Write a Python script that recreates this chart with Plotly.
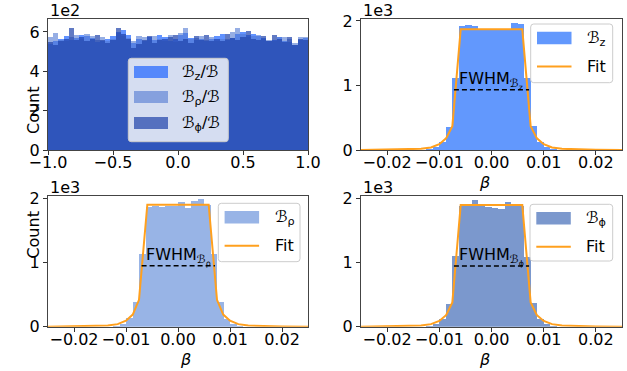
import plotly.graph_objects as go

W, H = 627, 371
FONT = "DejaVu Sans"
FS = 16

# ---- top-left: distribution of the component ratios, 50 bins on [-1, 1] ----
ratio_lo, ratio_hi, ratio_nbins = -1.0, 1.0, 50
ratio_bz = [540, 552, 565, 580, 558, 568, 585, 578, 570, 548, 552, 562, 582, 600, 608,
            584, 545, 562, 555, 572, 558, 586, 576, 552, 563, 584, 594, 570, 558, 565,
            552, 562, 578, 590, 558, 570, 592, 598, 584, 592, 580, 570, 552, 560, 575,
            555, 548, 532, 558, 568]
ratio_brho = [572, 594, 558, 552, 574, 584, 565, 590, 578, 558, 572, 552, 566, 596, 582,
              568, 555, 578, 572, 558, 580, 564, 552, 584, 548, 596, 622, 562, 568, 578,
              558, 572, 552, 562, 565, 600, 618, 590, 574, 580, 584, 565, 558, 552, 572,
              574, 562, 545, 574, 572]
ratio_bphi = [548, 532, 552, 566, 620, 558, 572, 552, 565, 585, 560, 545, 558, 618, 590,
              562, 520, 540, 558, 578, 545, 558, 562, 572, 585, 552, 565, 545, 578, 558,
              585, 552, 565, 552, 588, 570, 558, 574, 606, 566, 558, 580, 552, 585, 562,
              548, 574, 532, 565, 558]

# ---- beta histograms, 40 bins on [-0.025, 0.025] ----
beta_lo, beta_hi, beta_nbins = -0.025, 0.025, 40
beta_bz = [0] * 10 + [8, 45, 128, 360, 1120,
                      1925, 1930, 1922, 1862, 1860, 1856, 1858, 1870, 1975, 1950,
                      1110, 370, 130, 45, 8] + [0] * 10
beta_brho = [0] * 10 + [8, 45, 140, 390, 1140,
                        1885, 1890, 1885, 1890, 1895, 1958, 1855, 1975, 2000, 1905,
                        1150, 390, 130, 45, 8] + [0] * 10
beta_bphi = [0] * 10 + [8, 45, 130, 370, 1120,
                        1900, 1905, 1985, 1922, 1885, 1870, 1845, 1958, 1906, 1900,
                        1100, 380, 130, 45, 8] + [0] * 10

# fitted flat-top profiles
fit_beta = [-0.025, -0.02, -0.016, -0.0135, -0.0116, -0.0100, -0.0087, -0.0075, -0.0059,
            0.0059, 0.0075, 0.0087, 0.0100, 0.0116, 0.0135, 0.016, 0.02, 0.025]
fit_bz = [0, 3, 8, 18, 40, 90, 180, 370, 1870, 1870, 370, 180, 90, 40, 18, 8, 3, 0]
fit_brho = [0, 3, 8, 18, 40, 95, 190, 420, 1905, 1905, 420, 190, 95, 40, 18, 8, 3, 0]
fit_bphi = [0, 3, 8, 18, 40, 90, 180, 380, 1900, 1900, 380, 180, 90, 40, 18, 8, 3, 0]

# FWHM segments: left, right, level
fwhm_bz = [-0.0072, 0.0072, 935]
fwhm_brho = [-0.0070, 0.0071, 952]
fwhm_bphi = [-0.0072, 0.0072, 950]

ratio_ticks = [-1.0, -0.5, 0.0, 0.5, 1.0]
ratio_ticktext = ["\u22121.0", "\u22120.5", "0.0", "0.5", "1.0"]
beta_ticks = [-0.02, -0.01, 0.0, 0.01, 0.02]
beta_ticktext = ["\u22120.02", "\u22120.01", "0.00", "0.01", "0.02"]
ratio_yticks = [0, 200, 400, 600]
ratio_yticktext = ["0", "2", "4", "6"]
beta_yticks = [0, 1000, 2000]
beta_yticktext = ["0", "1", "2"]

# colours
C_BZ = "#6298fd"
C_BRHO = "#98b4e6"
C_BPHI = "#7b98cd"
C_FIT = "#ffa01e"
A_BZ = "rgba(30,100,255,0.7)"
A_BRHO = "rgba(80,120,210,0.6)"
A_BPHI = "rgba(30,65,170,0.7)"


def px(x):
    return x / W


def py(y):
    return 1 - y / H


def centers(lo, hi, n):
    w = (hi - lo) / n
    return [lo + (i + 0.5) * w for i in range(n)], w


fig = go.Figure()

# top-left overlaid histograms
rc, rw = centers(ratio_lo, ratio_hi, ratio_nbins)
for vals, col in [(ratio_bz, A_BZ), (ratio_brho, A_BRHO), (ratio_bphi, A_BPHI)]:
    fig.add_trace(go.Bar(x=rc, y=vals, width=rw, marker=dict(color=col, line=dict(width=0)),
                         xaxis="x", yaxis="y", showlegend=False))

bc, bw = centers(beta_lo, beta_hi, beta_nbins)
panels = [
    ("x2", "y2", beta_bz, C_BZ, fit_bz, fwhm_bz, "z"),
    ("x3", "y3", beta_brho, C_BRHO, fit_brho, fwhm_brho, "\u03c1"),
    ("x4", "y4", beta_bphi, C_BPHI, fit_bphi, fwhm_bphi, "\u03d5"),
]
for xa, ya, vals, col, fit, fw, sub in panels:
    fig.add_trace(go.Bar(x=bc, y=vals, width=bw, marker=dict(color=col, line=dict(width=0)),
                         xaxis=xa, yaxis=ya, showlegend=False))
    fig.add_trace(go.Scatter(x=fit_beta, y=fit, mode="lines", line=dict(color=C_FIT, width=2),
                             xaxis=xa, yaxis=ya, showlegend=False))
    fig.add_trace(go.Scatter(x=[fw[0], fw[1]], y=[fw[2], fw[2]], mode="lines",
                             line=dict(color="black", width=1.5, dash="5px,3px"),
                             xaxis=xa, yaxis=ya, showlegend=False))
    fig.add_annotation(x=-0.0066, y=fw[2], xref=xa, yref=ya, xanchor="left", yanchor="bottom",
                       text="FWHM<sub>\u212c<sub>" + sub + "</sub></sub>", showarrow=False,
                       font=dict(family=FONT, size=FS, color="black"), yshift=-4)

# panel rectangles in pixels: left, top, right, bottom
TL = (48, 19, 308, 150)
TR = (361, 19, 622, 150)
BL = (48, 195.5, 308, 326.7)
BR = (361, 195.5, 622, 326.7)


def axis_common(rect, horizontal):
    lo, hi = (rect[0], rect[2]) if horizontal else (rect[3], rect[1])
    dom = [px(lo), px(hi)] if horizontal else [py(lo), py(hi)]
    d = dict(domain=dom, showline=True, mirror=True, linecolor="#444", linewidth=1,
             ticks="outside", ticklen=4, tickcolor="#333", showgrid=False, zeroline=False,
             tickfont=dict(family=FONT, size=FS, color="black"), automargin=False)
    if horizontal:
        d["ticklabelstandoff"] = -6
    return d


fig.update_layout(
    xaxis=dict(axis_common(TL, True), range=[-1, 1], tickvals=ratio_ticks,
               ticktext=ratio_ticktext, anchor="y"),
    yaxis=dict(axis_common(TL, False), range=[0, 666], tickvals=ratio_yticks,
               ticktext=ratio_yticktext, anchor="x"),
)
for i, rect in [(2, TR), (3, BL), (4, BR)]:
    yr = [0, 2030] if i == 2 else [0, 2050]
    fig.update_layout({
        f"xaxis{i}": dict(axis_common(rect, True), range=[beta_lo, beta_hi], tickvals=beta_ticks,
                          ticktext=beta_ticktext, anchor=f"y{i}"),
        f"yaxis{i}": dict(axis_common(rect, False), range=yr, tickvals=beta_yticks,
                          ticktext=beta_yticktext, anchor=f"x{i}"),
    })

fig.update_layout(width=W, height=H, margin=dict(l=0, r=0, t=0, b=0),
                  paper_bgcolor="white", plot_bgcolor="white", barmode="overlay",
                  bargap=0, showlegend=False)

txt = dict(family=FONT, size=FS, color="black")

# scale factors above each panel
for rect, s in [(TL, "1e2"), (TR, "1e3"), (BL, "1e3"), (BR, "1e3")]:
    fig.add_annotation(x=px(rect[0]), y=py(rect[1]), xref="paper", yref="paper",
                       xanchor="left", yanchor="bottom", text=s, showarrow=False,
                       font=txt, yshift=-3)

# axis titles
for rect in (TL, BL):
    fig.add_annotation(x=px(22), y=py((rect[1] + rect[3]) / 2), xref="paper", yref="paper",
                       text="Count", textangle=-90, showarrow=False, font=txt)
for rect in (TR, BL, BR):
    fig.add_annotation(x=px((rect[0] + rect[2]) / 2), y=py(rect[3] + 21), xref="paper",
                       yref="paper", yanchor="top", text="<i>\u03b2</i>", showarrow=False,
                       font=txt)


def rounded_box(l, t, r, b, rad=3):
    rx, ry = rad / W, rad / H
    L, R, T, B = px(l), px(r), py(t), py(b)
    path = (f"M{L + rx},{T} L{R - rx},{T} Q{R},{T} {R},{T - ry} "
            f"L{R},{B + ry} Q{R},{B} {R - rx},{B} L{L + rx},{B} Q{L},{B} {L},{B + ry} "
            f"L{L},{T - ry} Q{L},{T} {L + rx},{T} Z")
    fig.add_shape(type="path", path=path, xref="paper", yref="paper",
                  fillcolor="rgba(255,255,255,0.8)", line=dict(color="#cccccc", width=1))


def patch(l, t, r, b, col):
    fig.add_shape(type="rect", x0=px(l), x1=px(r), y0=py(b), y1=py(t), xref="paper",
                  yref="paper", fillcolor=col, line=dict(width=0))


def label(x, y, s):
    fig.add_annotation(x=px(x), y=py(y), xref="paper", yref="paper", xanchor="left",
                       yanchor="middle", text=s, showarrow=False, font=txt)


# legend of the ratio panel
rounded_box(128.3, 58.3, 228.3, 141.7)
for yc, col, s in [(72, A_BZ, "\u212c<sub>z</sub>/\u212c"),
                   (97, A_BRHO, "\u212c<sub>\u03c1</sub>/\u212c"),
                   (123, A_BPHI, "\u212c<sub>\u03d5</sub>/\u212c")]:
    patch(134, yc - 6, 168, yc + 6, col)
    label(180, yc, s)

# legends of the beta panels
for (l, t, r, b), col, s in [((530.7, 24, 612.7, 82.7), C_BZ, "\u212c<sub>z</sub>"),
                             ((218.3, 203.3, 300, 261.7), C_BRHO, "\u212c<sub>\u03c1</sub>"),
                             ((530, 204.3, 612.7, 261), C_BPHI, "\u212c<sub>\u03d5</sub>")]:
    rounded_box(l, t, r, b)
    pl = l + 6.3
    yp = t + 14
    patch(pl, yp - 6.2, pl + 34.5, yp + 6.2, col)
    label(pl + 48, yp, s)
    yl = t + 42.5
    fig.add_shape(type="line", x0=px(pl), x1=px(pl + 34.5), y0=py(yl), y1=py(yl),
                  xref="paper", yref="paper", line=dict(color=C_FIT, width=2))
    label(pl + 48, yl, "Fit")

fig.write_html("out.html")
